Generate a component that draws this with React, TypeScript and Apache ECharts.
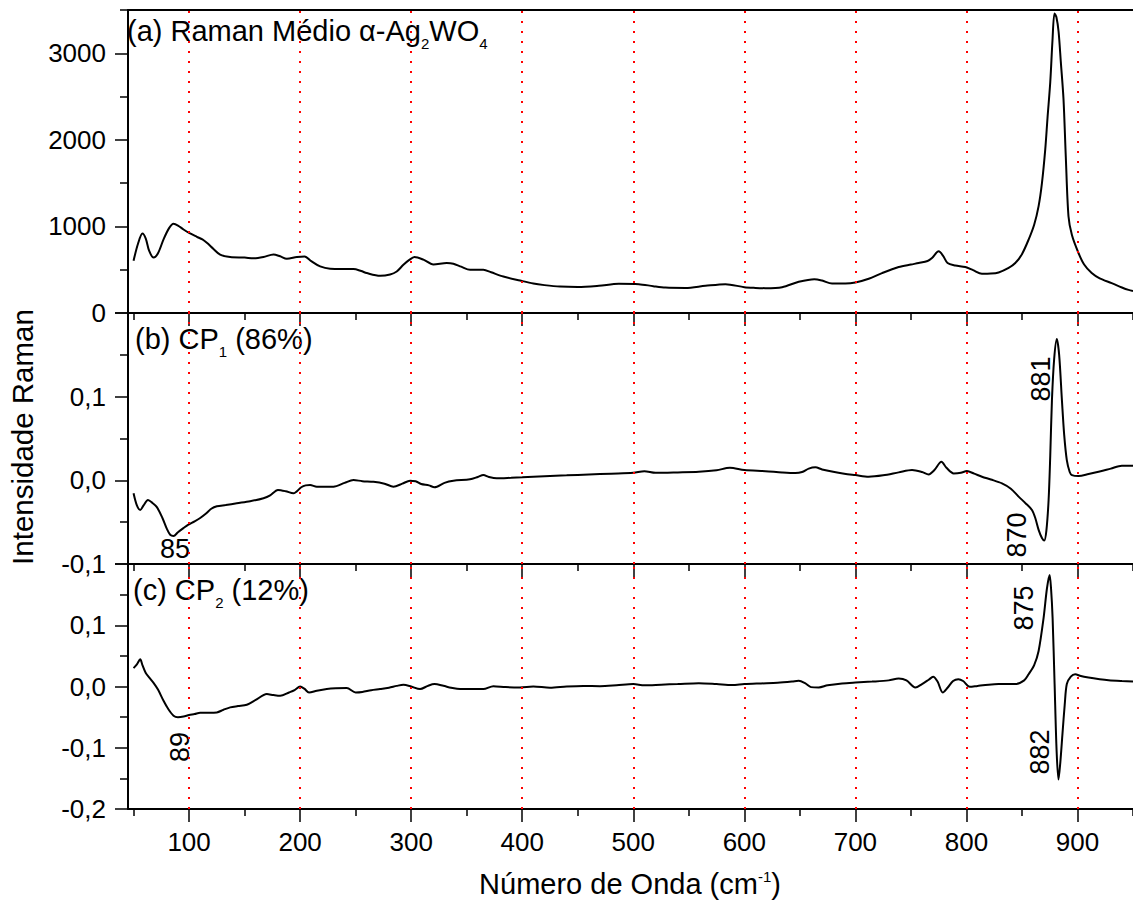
import React, { useEffect, useRef } from 'react';
import * as echarts from 'echarts';

// Panel (a): average Raman spectrum
const waveA = [50, 54, 58, 61, 64, 68, 72, 77, 82, 86, 90, 95, 100, 107, 112, 116, 122, 128, 137, 150, 158, 167, 176, 182, 188, 197, 204, 210, 218, 227, 238, 248, 255, 260, 272, 281, 287, 293, 298, 303, 311, 320, 332, 338, 345, 353, 365, 372, 383, 398, 410, 420, 434, 450, 469, 487, 505, 518, 529, 547, 565, 583, 600, 610, 619, 634, 649, 663, 670, 679, 691, 700, 712, 724, 739, 750, 757, 765, 769, 775, 779, 783, 790, 799, 806, 814, 822, 829, 838, 844, 850, 856, 861, 865, 868, 871, 873, 875.5, 877.5, 879.3, 881, 883, 885, 887.4, 889.5, 891.9, 895, 900.9, 906, 912.8, 920, 930.8, 940, 946, 950];
const ramanA = [604, 800, 918, 860, 720, 640, 690, 850, 980, 1030, 1010, 965, 925, 880, 850, 811, 740, 674, 647, 640, 631, 647, 677, 655, 627, 647, 654, 600, 538, 511, 508, 508, 485, 461, 430, 445, 480, 557, 610, 647, 616, 561, 577, 569, 535, 499, 499, 470, 422, 375, 340, 322, 305, 300, 314, 337, 333, 310, 294, 290, 314, 333, 298, 290, 287, 298, 360, 391, 375, 340, 340, 352, 395, 461, 531, 560, 577, 600, 635, 712, 660, 577, 549, 531, 495, 453, 455, 468, 520, 577, 680, 848, 1020, 1235, 1500, 1893, 2250, 2668, 3150, 3461, 3420, 3249, 2900, 2474, 1800, 1118, 900, 693, 560, 461, 400, 345, 295, 267, 255];

// Panel (b): CP1 (86%)
const waveB = [50, 53, 56, 59, 63, 67, 71, 76, 80, 83, 86, 90, 95, 99, 105, 110, 115, 120, 125, 133, 143, 155, 167, 173, 180, 187, 194, 201, 205, 209, 215, 221, 230, 240, 248, 256, 266, 276, 284, 292, 299, 304, 309, 316, 321, 330, 338, 353, 360, 365, 370, 377, 390, 400, 420, 440, 460, 480, 500, 510, 520, 540, 559, 575, 587, 600, 619, 634, 646, 652, 658, 664, 670, 680, 690, 700, 712, 725, 739, 751, 760, 766, 771, 777.5, 782, 788.5, 795, 800.4, 807, 814, 822, 832, 840, 847, 853, 859, 862, 865, 868, 870.1, 872, 874, 875.5, 877, 879, 881.4, 883.5, 886, 888, 890.4, 893, 895, 901, 910, 919, 930, 940, 950];
const cp1 = [-0.0155, -0.03, -0.0354, -0.03, -0.0235, -0.027, -0.032, -0.045, -0.058, -0.0651, -0.0665, -0.062, -0.057, -0.0532, -0.049, -0.045, -0.04, -0.034, -0.031, -0.0295, -0.0274, -0.025, -0.0214, -0.018, -0.0115, -0.013, -0.0155, -0.0083, -0.006, -0.0056, -0.0076, -0.0076, -0.0076, -0.003, 0.0004, -0.001, -0.0017, -0.004, -0.0076, -0.004, -0.0005, -0.001, -0.0044, -0.006, -0.0083, -0.003, -0.0005, 0.0012, 0.004, 0.0063, 0.004, 0.0024, 0.003, 0.0036, 0.005, 0.006, 0.007, 0.008, 0.009, 0.011, 0.009, 0.0095, 0.0102, 0.012, 0.015, 0.0123, 0.011, 0.0095, 0.0088, 0.01, 0.014, 0.0155, 0.013, 0.0102, 0.008, 0.0063, 0.0043, 0.006, 0.0095, 0.0123, 0.01, 0.0071, 0.012, 0.0221, 0.015, 0.0083, 0.009, 0.0111, 0.008, 0.0043, 0.001, -0.0036, -0.01, -0.0195, -0.027, -0.0354, -0.045, -0.0592, -0.069, -0.0719, -0.06, -0.0235, 0.03, 0.0956, 0.145, 0.169, 0.15, 0.0956, 0.055, 0.0242, 0.01, 0.0063, 0.0051, 0.0075, 0.0102, 0.014, 0.0174, 0.0174];

// Panel (c): CP2 (12%)
const waveC = [50, 53, 56, 58, 61, 64, 68, 72, 77, 81, 86, 90, 95, 100, 105, 110, 118, 125, 131, 137, 144, 152, 160, 170, 176, 182, 190, 195, 200, 204, 208, 215, 224, 232, 242, 250, 256, 264, 272, 280, 287, 293, 300, 308, 315, 321, 329, 336, 344, 355, 365, 374, 385, 398, 410, 425, 440, 455, 470, 485, 500, 510, 525, 540, 559, 575, 589, 600, 615, 630, 643, 649, 655, 660, 667, 675, 688, 700, 715, 730, 739, 746, 754, 760, 766, 770, 774, 778.7, 783, 788, 792.7, 797, 803, 810, 820, 829, 844, 852, 856, 861, 865, 869.5, 872.5, 874.9, 876.2, 877.6, 879.4, 881.2, 882.9, 884.5, 886.5, 888.5, 890.4, 894, 897.9, 903, 909.9, 920, 928, 940, 950];
const cp2 = [0.03, 0.036, 0.0445, 0.035, 0.022, 0.015, 0.006, -0.005, -0.0233, -0.036, -0.0476, -0.05, -0.049, -0.0465, -0.045, -0.0428, -0.0428, -0.0423, -0.038, -0.0341, -0.032, -0.0298, -0.022, -0.0124, -0.014, -0.0151, -0.0098, -0.006, 0.0, -0.004, -0.0098, -0.007, -0.0042, -0.003, -0.0026, -0.0098, -0.009, -0.006, -0.0042, -0.002, 0.001, 0.0028, 0.0, -0.0042, 0.001, 0.0039, 0.0011, -0.002, -0.0042, -0.0042, -0.0042, 0.0006, -0.001, -0.0016, 0.0, -0.002, 0.0, 0.001, 0.0005, 0.002, 0.004, 0.002, 0.003, 0.004, 0.0055, 0.004, 0.0023, 0.0039, 0.005, 0.006, 0.008, 0.0093, 0.005, -0.001, -0.0016, 0.002, 0.005, 0.0065, 0.008, 0.01, 0.013, 0.01, -0.0016, 0.004, 0.011, 0.0158, 0.008, -0.0098, -0.002, 0.009, 0.012, 0.009, -0.0005, 0.001, 0.003, 0.0039, 0.0039, 0.01, 0.02, 0.035, 0.058, 0.112, 0.16, 0.182, 0.16, 0.112, 0.004, -0.105, -0.152, -0.125, -0.077, -0.03, 0.004, 0.016, 0.02, 0.017, 0.0146, 0.012, 0.0104, 0.009, 0.0081];

// Axis ticks / labels
const xMajorTicks = [100, 200, 300, 400, 500, 600, 700, 800, 900];
const xMinorTicks = [50, 150, 250, 350, 450, 550, 650, 750, 850, 950];
const guideLines = [100, 200, 300, 400, 500, 600, 700, 800, 900];
const yMajorA = [0, 1000, 2000, 3000];
const yMinorA = [500, 1500, 2500, 3500];

const FONT = '"Liberation Sans", Arial, Helvetica, sans-serif';
const X_MIN = 45;
const X_MAX = 950;

function pairs(xs: number[], ys: number[]) {
  return xs.map((x, i) => [x, ys[i]]);
}

const commaFmt = (v: number) => {
  if (v > 0.15) return '';
  const r = Math.round(v * 10) / 10;
  return r.toFixed(1).replace('.', ',');
};

export default function App() {
  const ref = useRef<HTMLDivElement>(null);
  useEffect(() => {
    document.body.style.margin = '0';
    const chart = echarts.init(ref.current!, null, { renderer: 'svg' });
    const grids = [
      { left: 128, top: 10, width: 1006, height: 303 },
      { left: 128, top: 313, width: 1006, height: 251 },
      { left: 128, top: 564, width: 1006, height: 245 },
    ];
    const black = '#000';
    const xAxes: any[] = [];
    for (let g = 0; g < 3; g++) {
      xAxes.push({
        type: 'value', gridIndex: g, position: 'bottom', min: X_MIN, max: X_MAX,
        axisLine: { show: true, onZero: false, lineStyle: { color: black, width: 2 } },
        axisTick: { show: true, customValues: xMajorTicks, length: 13, inside: false, lineStyle: { color: black, width: 1.5 } },
        axisLabel: g === 2
          ? { show: true, customValues: xMajorTicks, color: black, fontSize: 26, fontFamily: FONT, margin: 20, formatter: (v: number) => String(v) }
          : { show: false },
        splitLine: { show: false },
      });
      xAxes.push({
        type: 'value', gridIndex: g, position: 'bottom', min: X_MIN, max: X_MAX,
        axisLine: { show: false, onZero: false },
        axisTick: { show: true, customValues: xMinorTicks, length: 7, inside: false, lineStyle: { color: black, width: 1.5 } },
        axisLabel: { show: false },
        splitLine: { show: false },
      });
    }
    xAxes.push({
      type: 'value', gridIndex: 0, position: 'top', min: X_MIN, max: X_MAX,
      axisLine: { show: true, onZero: false, lineStyle: { color: black, width: 2 } },
      axisTick: { show: false }, axisLabel: { show: false }, splitLine: { show: false },
    });

    const yLabel = { color: black, fontSize: 26, fontFamily: FONT, margin: 22 };
    const yAxes: any[] = [
      {
        type: 'value', gridIndex: 0, min: 0, max: 3500, position: 'left',
        axisLine: { show: true, onZero: false, lineStyle: { color: black, width: 2 } },
        axisTick: { show: true, customValues: yMajorA, length: 13, lineStyle: { color: black, width: 1.5 } },
        axisLabel: { ...yLabel, customValues: yMajorA, formatter: (v: number) => String(v) },
        splitLine: { show: false },
      },
      {
        type: 'value', gridIndex: 0, min: 0, max: 3500, position: 'left',
        axisLine: { show: false, onZero: false },
        axisTick: { show: true, customValues: yMinorA, length: 8, lineStyle: { color: black, width: 1.5 } },
        axisLabel: { show: false },
        splitLine: { show: false },
      },
      {
        type: 'value', gridIndex: 1, min: -0.1, max: 0.2, interval: 0.1, position: 'left',
        axisLine: { show: true, onZero: false, lineStyle: { color: black, width: 2 } },
        axisTick: { show: true, length: 13, lineStyle: { color: black, width: 1.5 } },
        minorTick: { show: true, splitNumber: 2, length: 8, lineStyle: { color: black, width: 1.5 } },
        axisLabel: { ...yLabel, formatter: commaFmt },
        splitLine: { show: false },
      },
      {
        type: 'value', gridIndex: 2, min: -0.2, max: 0.2, interval: 0.1, position: 'left',
        axisLine: { show: true, onZero: false, lineStyle: { color: black, width: 2 } },
        axisTick: { show: true, length: 13, lineStyle: { color: black, width: 1.5 } },
        minorTick: { show: true, splitNumber: 2, length: 8, lineStyle: { color: black, width: 1.5 } },
        axisLabel: { ...yLabel, formatter: commaFmt },
        splitLine: { show: false },
      },
    ];

    const guide = {
      silent: true,
      symbol: ['none', 'none'],
      label: { show: false },
      lineStyle: { color: '#ff0000', type: [2, 8], width: 2 },
      data: guideLines.map((x) => ({ xAxis: x })),
    };

    const mkSeries = (data: number[][], xi: number, yi: number) => ({
      type: 'line', xAxisIndex: xi, yAxisIndex: yi, data,
      showSymbol: false, smooth: 0.3, clip: true,
      lineStyle: { color: black, width: 2 },
      markLine: guide,
      z: 3,
    });

    const rot = Math.PI / 2;
    const annot = (text: string, x: number, y: number, rotated: boolean) => ({
      type: 'text', x, y, rotation: rotated ? rot : 0,
      style: { text, fontSize: 27, fontFamily: FONT, fill: black, align: 'center', verticalAlign: 'middle' },
    });
    const panelRich = {
      m: { fontSize: 29, fontFamily: FONT, lineHeight: 28, verticalAlign: 'top', fill: black },
      s: { fontSize: 15, fontFamily: FONT, lineHeight: 55, verticalAlign: 'middle', fill: black },
    };
    const panelLabel = (text: string, x: number, y: number) => ({
      type: 'text', x, y,
      style: { text, rich: panelRich, fill: black, align: 'left', verticalAlign: 'top' },
    });

    chart.setOption({
      animation: false,
      backgroundColor: '#fff',
      grid: grids,
      xAxis: xAxes,
      yAxis: yAxes,
      series: [
        mkSeries(pairs(waveA, ramanA), 0, 0),
        mkSeries(pairs(waveB, cp1), 2, 2),
        mkSeries(pairs(waveC, cp2), 4, 3),
      ],
      graphic: [
        panelLabel('{m|(a) Raman Médio α-Ag}{s|2}{m|WO}{s|4}', 127, 16),
        panelLabel('{m|(b) CP}{s|1}{m| (86%)}', 135, 324),
        panelLabel('{m|(c) CP}{s|2}{m| (12%)}', 133, 575),
        annot('85', 175, 549, false),
        annot('881', 1041, 379, true),
        annot('870', 1017, 535, true),
        annot('875', 1024, 608, true),
        annot('882', 1040, 752, true),
        annot('89', 180, 747, true),
        {
          type: 'text', x: 22, y: 437, rotation: rot,
          style: { text: 'Intensidade Raman', fontSize: 29.5, fontFamily: FONT, fill: black, align: 'center', verticalAlign: 'middle' },
        },
        {
          type: 'text', x: 630, y: 884,
          style: {
            text: '{m|Número de Onda (cm}{p|-1}{m|)}',
            rich: {
              m: { fontSize: 29, fontFamily: FONT, lineHeight: 30, fill: black },
              p: { fontSize: 15, fontFamily: FONT, lineHeight: 15, verticalAlign: 'top', fill: black },
            },
            align: 'center', verticalAlign: 'middle',
          },
        },
      ],
    });
    return () => chart.dispose();
  }, []);
  return <div ref={ref} style={{ width: 1133, height: 902 }} />;
}
